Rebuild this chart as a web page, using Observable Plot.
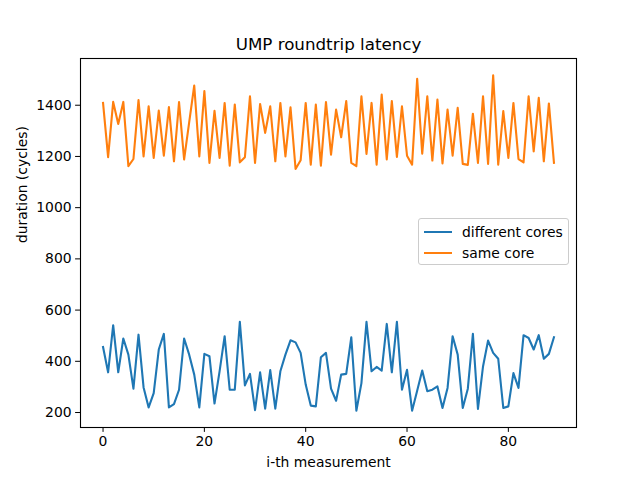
<!DOCTYPE html>
<html>
<head>
<meta charset="utf-8">
<script src="https://cdn.jsdelivr.net/npm/d3@7"></script>
<script src="https://cdn.jsdelivr.net/npm/@observablehq/plot@0.6"></script>
<style>
  body { margin: 0; background: #fff; font-family: "DejaVu Sans", sans-serif; }
  #wrap { position: relative; width: 640px; height: 480px; }
  #legend { position: absolute; left: 418px; top: 218px; width: 149px; height: 45px;
    border: 1px solid #cccccc; border-radius: 3px; background: rgba(255,255,255,0.8);
    font-family: "DejaVu Sans", sans-serif; font-size: 13.9px; color: #000; }
  .row { position: absolute; left: 0; height: 20px; display: flex; align-items: center; }
  .sw { position: absolute; left: 5px; width: 28px; height: 2px; }
  .lb { position: absolute; left: 43px; white-space: nowrap; }
</style>
</head>
<body>
<div id="wrap"></div>
<script>
const title = "UMP roundtrip latency";
const xLabel = "i-th measurement";
const yLabel = "duration (cycles)";
const seriesNames = ["different cores", "same core"];
const seriesColors = ["#1f77b4", "#ff7f0e"];
const xTicks = [0, 20, 40, 60, 80];
const yTicks = [200, 400, 600, 800, 1000, 1200, 1400];

const differentCores = [
  456, 357, 541, 357, 489, 426, 293, 504, 298, 220,
  276, 446, 507, 220, 233, 289, 489, 426, 348, 220,
  429, 420, 235, 361, 498, 289, 289, 554, 306, 351,
  209, 357, 215, 366, 215, 361, 426, 482, 474, 433,
  309, 227, 224, 416, 433, 293, 246, 348, 351, 494,
  207, 315, 554, 361, 378, 364, 546, 357, 554, 289,
  367, 207, 285, 364, 283, 289, 302, 218, 296, 498,
  426, 218, 293, 507, 214, 380, 481, 433, 410, 218,
  224, 354, 296, 502, 491, 446, 502, 410, 429, 494
];
const sameCore = [
  1409, 1197, 1413, 1327, 1413, 1162, 1190, 1420, 1200, 1396,
  1194, 1379, 1203, 1393, 1181, 1412, 1188, 1333, 1477, 1200,
  1455, 1175, 1378, 1194, 1409, 1164, 1403, 1177, 1197, 1435,
  1175, 1405, 1292, 1396, 1181, 1409, 1200, 1392, 1151, 1185,
  1409, 1168, 1403, 1164, 1412, 1207, 1383, 1275, 1416, 1175,
  1162, 1435, 1210, 1409, 1168, 1442, 1188, 1416, 1198, 1396,
  1203, 1168, 1503, 1211, 1435, 1184, 1422, 1173, 1383, 1203,
  1390, 1171, 1167, 1367, 1175, 1435, 1171, 1517, 1168, 1377,
  1194, 1409, 1190, 1177, 1435, 1220, 1429, 1181, 1407, 1175
];

const data = [];
differentCores.forEach((v, i) => data.push({i, v, s: seriesNames[0]}));
sameCore.forEach((v, i) => data.push({i, v, s: seriesNames[1]}));

const chart = Plot.plot({
  width: 640,
  height: 480,
  marginLeft: 80,
  marginRight: 64,
  marginTop: 58,
  marginBottom: 53,
  style: {fontFamily: "DejaVu Sans, sans-serif", fontSize: "13.9px", color: "#000", background: "#fff"},
  x: {domain: [-4.45, 93.45]},
  y: {domain: [141.5, 1582.5]},
  color: {domain: seriesNames, range: seriesColors},
  marks: [
    Plot.frame({stroke: "#000", strokeWidth: 1.1}),
    Plot.axisX({ticks: xTicks, tickSize: 4.9, tickPadding: 4, label: null, tickFormat: d => String(d), fontSize: 13.9}),
    Plot.axisY({ticks: yTicks, tickSize: 4.9, tickPadding: 4, label: null, tickFormat: d => String(d), fontSize: 13.9}),
    Plot.line(data, {x: "i", y: "v", z: "s", stroke: "s", strokeWidth: 2.1, strokeLinejoin: "round", strokeLinecap: "square"}),
    Plot.text([title], {frameAnchor: "top", dy: -20, fontSize: 16.7, text: d => d}),
    Plot.text([xLabel], {frameAnchor: "bottom", dy: 39, fontSize: 13.9, text: d => d}),
    Plot.text([yLabel], {frameAnchor: "left", dx: -58, rotate: -90, fontSize: 13.9, text: d => d})
  ]
});

const wrap = document.getElementById("wrap");
wrap.appendChild(chart);

const legend = document.createElement("div");
legend.id = "legend";
seriesNames.forEach((name, k) => {
  const row = document.createElement("div");
  row.className = "row";
  row.style.top = (3 + k * 21) + "px";
  row.style.width = "100%";
  const sw = document.createElement("div");
  sw.className = "sw";
  sw.style.background = seriesColors[k];
  sw.style.top = "9px";
  const lb = document.createElement("div");
  lb.className = "lb";
  lb.textContent = name;
  row.appendChild(sw);
  row.appendChild(lb);
  legend.appendChild(row);
});
wrap.appendChild(legend);
</script>
</body>
</html>
